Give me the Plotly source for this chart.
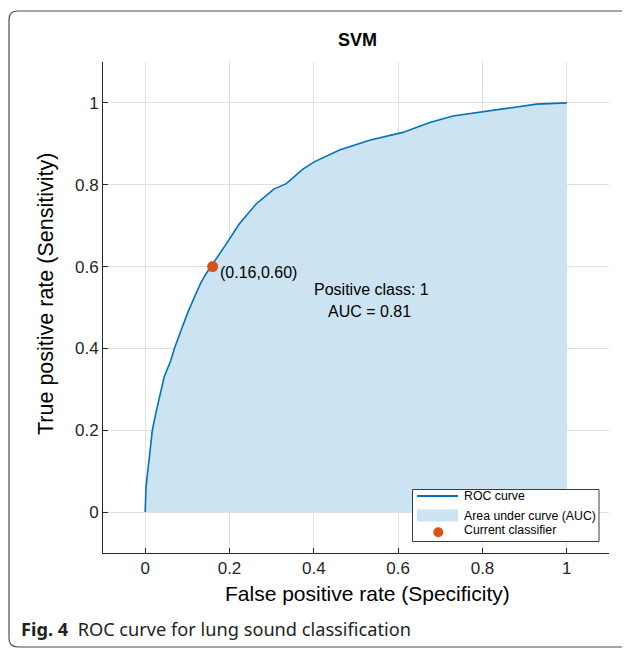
import plotly.graph_objects as go

# ---- data ----
fpr = [0.0, 0.002, 0.010, 0.017, 0.025, 0.037, 0.045, 0.061, 0.069, 0.085, 0.100,
       0.120, 0.132, 0.144, 0.156, 0.192, 0.223, 0.263, 0.306, 0.334, 0.374, 0.401,
       0.461, 0.532, 0.611, 0.675, 0.730, 0.801, 0.873, 0.928, 1.0]
tpr = [0.0, 0.062, 0.135, 0.200, 0.240, 0.290, 0.330, 0.371, 0.399, 0.444, 0.485,
       0.533, 0.560, 0.582, 0.600, 0.655, 0.704, 0.753, 0.790, 0.802, 0.838, 0.856,
       0.885, 0.909, 0.928, 0.952, 0.968, 0.979, 0.989, 0.997, 1.0]
op_fpr = [0.16]
op_tpr = [0.60]
op_label = "(0.16,0.60)"
positive_class = "1"
auc = 0.81
tick_vals = [0, 0.2, 0.4, 0.6, 0.8, 1]
tick_text = ["0", "0.2", "0.4", "0.6", "0.8", "1"]
legend_labels = ["ROC curve", "Area under curve (AUC)", "Current classifier"]
x_title = "False positive rate (Specificity)"
y_title = "True positive rate (Sensitivity)"

OFF = 8  # page body margin
W, H = 630 - OFF, 650 - OFF
L, R, T, B = 103 - OFF, 21, 62 - OFF, 97
PW, PH = W - L - R, H - T - B

def px(x):
    return (x - OFF - L) / PW

def py(y):
    return (H - B - (y - OFF)) / PH

LINE = "#0072BD"
FILL = "#CCE3F2"
DOT = "#D95319"
AX = "#262626"
FONT = "Liberation Sans, Arial, sans-serif"

fig = go.Figure()
fig.add_trace(go.Scatter(x=fpr, y=tpr, mode="lines", fill="tozeroy",
                         fillcolor=FILL, line=dict(color=LINE, width=1.6),
                         showlegend=False, hoverinfo="skip"))
fig.add_trace(go.Scatter(x=op_fpr, y=op_tpr, mode="markers",
                         marker=dict(color=DOT, size=11, line=dict(width=0)),
                         showlegend=False))

ann = []
ann.append(dict(x=op_fpr[0], y=op_tpr[0], xref="x", yref="y", text=op_label,
                showarrow=False, xanchor="left", yanchor="top", xshift=5, yshift=5,
                font=dict(family=FONT, size=16, color="#000")))
ann.append(dict(x=0.536, y=0.543, xref="x", yref="y",
                text=f"Positive class: {positive_class}", showarrow=False,
                xanchor="center", yanchor="middle",
                font=dict(family=FONT, size=16, color="#000")))
ann.append(dict(x=0.532, y=0.49, xref="x", yref="y",
                text=f"AUC = {auc:.2f}", showarrow=False,
                xanchor="center", yanchor="middle",
                font=dict(family=FONT, size=16, color="#000")))
# title
ann.append(dict(x=px(357), y=py(40), xref="paper", yref="paper", text="<b>SVM</b>",
                showarrow=False, xanchor="center", yanchor="middle",
                font=dict(family=FONT, size=18, color="#000")))
# axis titles
ann.append(dict(x=px(367.5), y=py(594), xref="paper", yref="paper", text=x_title,
                showarrow=False, xanchor="center", yanchor="middle",
                font=dict(family=FONT, size=21, color="#000")))
ann.append(dict(x=px(46), y=py(294), xref="paper", yref="paper", text=y_title,
                showarrow=False, xanchor="center", yanchor="middle", textangle=-90,
                font=dict(family=FONT, size=21.5, color="#000")))
# caption
ann.append(dict(x=px(19), y=py(628.5), xref="paper", yref="paper",
                text="<b>Fig. 4</b>  ROC curve for lung sound classification",
                showarrow=False, xanchor="left", yanchor="middle",
                font=dict(family="Noto Sans, sans-serif", size=18.2, color="#231f20")))

shapes = []
# outer rounded frame
l0, t0, r0, b0, rad = 9, 11, 660, 647, 9
path = (f"M {px(l0)},{py(b0 - rad)} L {px(l0)},{py(t0 + rad)} "
        f"Q {px(l0)},{py(t0)} {px(l0 + rad)},{py(t0)} L {px(r0)},{py(t0)} "
        f"M {px(r0)},{py(b0)} L {px(l0 + rad)},{py(b0)} "
        f"Q {px(l0)},{py(b0)} {px(l0)},{py(b0 - rad)}")
shapes.append(dict(type="path", xref="paper", yref="paper", path=path,
                   line=dict(color="#4d4d4d", width=1.2)))

# legend box
shapes.append(dict(type="rect", xref="paper", yref="paper",
                   x0=px(412.5), x1=px(599), y0=py(541.5), y1=py(489.5),
                   fillcolor="white", line=dict(color=AX, width=0.9)))
shapes.append(dict(type="line", xref="paper", yref="paper",
                   x0=px(417), x1=px(458), y0=py(496), y1=py(496),
                   line=dict(color=LINE, width=2.2)))
shapes.append(dict(type="rect", xref="paper", yref="paper",
                   x0=px(417), x1=px(458), y0=py(521.5), y1=py(509.5),
                   fillcolor=FILL, line=dict(width=0)))
shapes.append(dict(type="circle", xref="paper", yref="paper",
                   x0=px(433.3), x1=px(443.3), y0=py(537.3), y1=py(527.3),
                   fillcolor=DOT, line=dict(width=0)))
for lbl, yy in zip(legend_labels, [495.5, 515.5, 530]):
    ann.append(dict(x=px(461.5), y=py(yy), xref="paper", yref="paper", text=lbl,
                    showarrow=False, xanchor="left", yanchor="middle",
                    font=dict(family=FONT, size=12.3, color="#000")))

axis_common = dict(
    tickvals=tick_vals, ticktext=tick_text, showgrid=True, gridcolor="#DFDFDF",
    gridwidth=1, zeroline=False, showline=True, linecolor=AX, linewidth=1,
    ticks="inside", ticklen=5, tickcolor=AX, mirror=False,
    tickfont=dict(family=FONT, size=17, color=AX),
)

fig.update_layout(
    width=W, height=H,
    margin=dict(l=L, r=R, t=T, b=B, pad=0),
    paper_bgcolor="white", plot_bgcolor="white",
    xaxis=dict(range=[-0.1, 1.1], **axis_common),
    yaxis=dict(range=[-0.1, 1.1], **axis_common),
    annotations=ann, shapes=shapes, showlegend=False,
)

fig.write_html("out.html")
